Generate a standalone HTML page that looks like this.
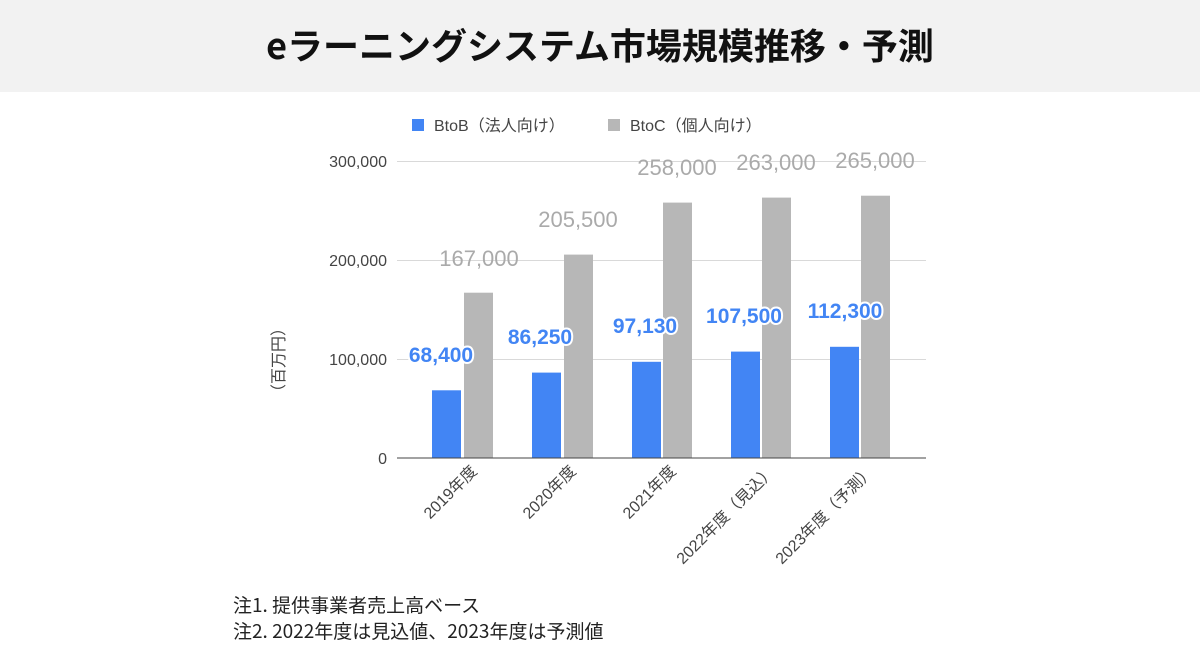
<!DOCTYPE html>
<html><head><meta charset="utf-8"><style>
body{margin:0;width:1200px;height:650px;background:#fff;overflow:hidden;font-family:"Liberation Sans","Noto Sans CJK JP",sans-serif}
</style></head><body>
<svg width="1200" height="650" xmlns="http://www.w3.org/2000/svg" font-family="Liberation Sans, Noto Sans CJK JP, sans-serif">
<rect x="0" y="0" width="1200" height="92" fill="#f2f2f2"/>
<text x="600" y="59" text-anchor="middle" font-size="36" font-weight="bold" fill="#111" font-family="Noto Sans CJK JP, sans-serif">eラーニングシステム市場規模推移・予測</text>
<rect x="412" y="119" width="12" height="12" fill="#4285f4"/>
<text x="434" y="131" font-size="16" fill="#444">BtoB（法人向け）</text>
<rect x="608" y="119" width="12" height="12" fill="#b7b7b7"/>
<text x="630" y="131" font-size="16" fill="#444">BtoC（個人向け）</text>
<g stroke="#d9d9d9" stroke-width="1">
<line x1="397" y1="161.5" x2="926" y2="161.5"/>
<line x1="397" y1="260.5" x2="926" y2="260.5"/>
<line x1="397" y1="359.5" x2="926" y2="359.5"/>
</g>
<g font-size="16" fill="#444" text-anchor="end">
<text x="387" y="167">300,000</text>
<text x="387" y="266">200,000</text>
<text x="387" y="365">100,000</text>
<text x="387" y="464">0</text>
</g>
<text transform="translate(284,360) rotate(-90)" text-anchor="middle" font-size="16" fill="#444">（百万円）</text>
<g fill="#4285f4">
<rect x="432" y="390.3" width="29" height="67.7"/>
<rect x="532" y="372.6" width="29" height="85.4"/>
<rect x="632" y="361.8" width="29" height="96.2"/>
<rect x="731" y="351.6" width="29" height="106.4"/>
<rect x="830" y="346.8" width="29" height="111.2"/>
</g>
<g fill="#b7b7b7">
<rect x="464" y="292.7" width="29" height="165.3"/>
<rect x="564" y="254.6" width="29" height="203.4"/>
<rect x="663" y="202.6" width="29" height="255.4"/>
<rect x="762" y="197.6" width="29" height="260.4"/>
<rect x="861" y="195.7" width="29" height="262.3"/>
</g>
<line x1="397" y1="458" x2="926" y2="458" stroke="#444" stroke-width="1"/>
<g font-size="22" fill="#aaa" text-anchor="middle">
<text x="479" y="266">167,000</text>
<text x="578" y="227">205,500</text>
<text x="677" y="175">258,000</text>
<text x="776" y="170">263,000</text>
<text x="875" y="168">265,000</text>
</g>
<g font-size="21" font-weight="bold" fill="#4285f4" text-anchor="middle" stroke="#fff" stroke-width="4" paint-order="stroke" stroke-linejoin="round">
<text x="441" y="362">68,400</text>
<text x="540" y="344">86,250</text>
<text x="645" y="333">97,130</text>
<text x="744" y="323">107,500</text>
<text x="845" y="318">112,300</text>
</g>
<g font-size="16" fill="#444" text-anchor="end">
<text transform="translate(478,472) rotate(-45)">2019年度</text>
<text transform="translate(577,472) rotate(-45)">2020年度</text>
<text transform="translate(677,472) rotate(-45)">2021年度</text>
<text transform="translate(776,472) rotate(-45)">2022年度（見込）</text>
<text transform="translate(875,472) rotate(-45)">2023年度（予測）</text>
</g>
<g font-size="19" fill="#222" font-family="Noto Sans CJK JP, sans-serif">
<text x="233" y="612">注1. 提供事業者売上高ベース</text>
<text x="233" y="638">注2. 2022年度は見込値、2023年度は予測値</text>
</g>
</svg>
</body></html>
